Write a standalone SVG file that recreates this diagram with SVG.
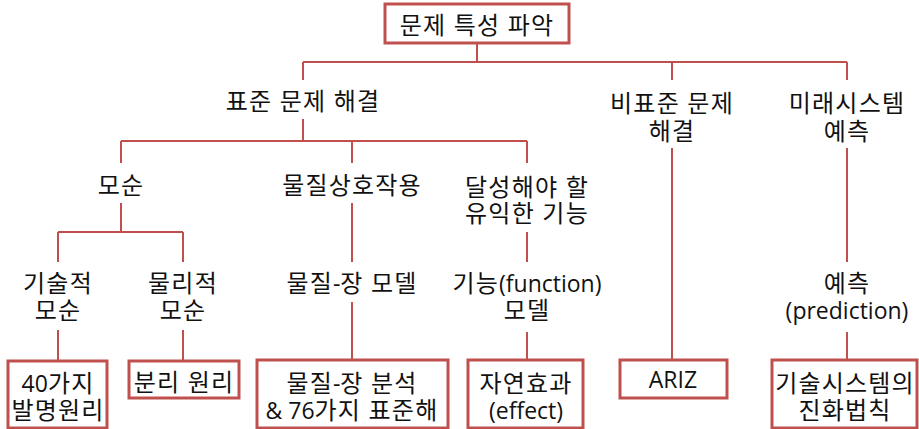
<svg xmlns="http://www.w3.org/2000/svg" width="919" height="429" viewBox="0 0 919 429">
<style>
text{font-family:"Open Sans","Noto Sans CJK KR",sans-serif;font-size:24px;letter-spacing:1.2px;fill:#111;text-anchor:middle}
.l{font-size:23px;letter-spacing:0}
.box{fill:#fff;stroke:#C0504D;stroke-width:3}
.ln{fill:none;stroke:#C0504D;stroke-width:2}
</style>
<rect width="919" height="429" fill="#fff"/>
<g id="connectors">
<path class="ln" d="M477,43 V62 M303,62 H847 M303,62 V80 M672,62 V80 M847,62 V80"/>
<path class="ln" d="M303,119 V141 M121,141 H527 M121,141 V163 M352,141 V163 M527,141 V163"/>
<path class="ln" d="M121,203 V232 M58,232 H183 M58,232 V262 M183,232 V262"/>
<path class="ln" d="M58,330 V360 M183,330 V360"/>
<path class="ln" d="M352,203 V262 M352,302 V360"/>
<path class="ln" d="M527,232 V262 M527,332 V360"/>
<path class="ln" d="M672,148 V360"/>
<path class="ln" d="M847,148 V262 M847,332 V360"/>
</g>
<g id="root"><rect class="box" x="385" y="4" width="184" height="39"/><text x="477" y="34">문제 특성 파악</text></g>
<g id="standard"><text x="303" y="110">표준 문제 해결</text></g>
<g id="nonstandard"><text x="672" y="112">비표준 문제</text><text x="672" y="140">해결</text></g>
<g id="future"><text x="847" y="112">미래시스템</text><text x="847" y="140">예측</text></g>
<g id="contradiction"><text x="121" y="194">모순</text></g>
<g id="interaction"><text x="352" y="194">물질상호작용</text></g>
<g id="useful"><text x="527" y="196">달성해야 할</text><text x="527" y="222">유익한 기능</text></g>
<g id="tech"><text x="58" y="292">기술적</text><text x="58" y="319">모순</text></g>
<g id="phys"><text x="183" y="292">물리적</text><text x="183" y="319">모순</text></g>
<g id="sufield"><text x="352" y="292">물질<tspan class="l">-</tspan>장 모델</text></g>
<g id="funcmodel"><text x="527" y="292">기능<tspan class="l">(function)</tspan></text><text x="527" y="319">모델</text></g>
<g id="prediction"><text x="847" y="292">예측</text><text class="l" x="847" y="319">(prediction)</text></g>
<g id="p40"><rect class="box" x="8" y="361" width="99" height="67"/><text x="58" y="392"><tspan class="l">40</tspan>가지</text><text x="58" y="419">발명원리</text></g>
<g id="separation"><rect class="box" x="129" y="361" width="110" height="37"/><text x="184" y="391">분리 원리</text></g>
<g id="su76"><rect class="box" x="257" y="360" width="191" height="68"/><text x="352" y="392">물질<tspan class="l">-</tspan>장 분석</text><text x="352" y="419"><tspan class="l">&amp; 76</tspan>가지 표준해</text></g>
<g id="effect"><rect class="box" x="468" y="360" width="115" height="68"/><text x="526" y="392">자연효과</text><text class="l" x="526" y="419">(effect)</text></g>
<g id="ariz"><rect class="box" x="620" y="360" width="107" height="38"/><text class="l" x="673" y="388">ARIZ</text></g>
<g id="evolution"><rect class="box" x="772" y="360" width="145" height="68"/><text x="845" y="392">기술시스템의</text><text x="845" y="419">진화법칙</text></g>
</svg>
